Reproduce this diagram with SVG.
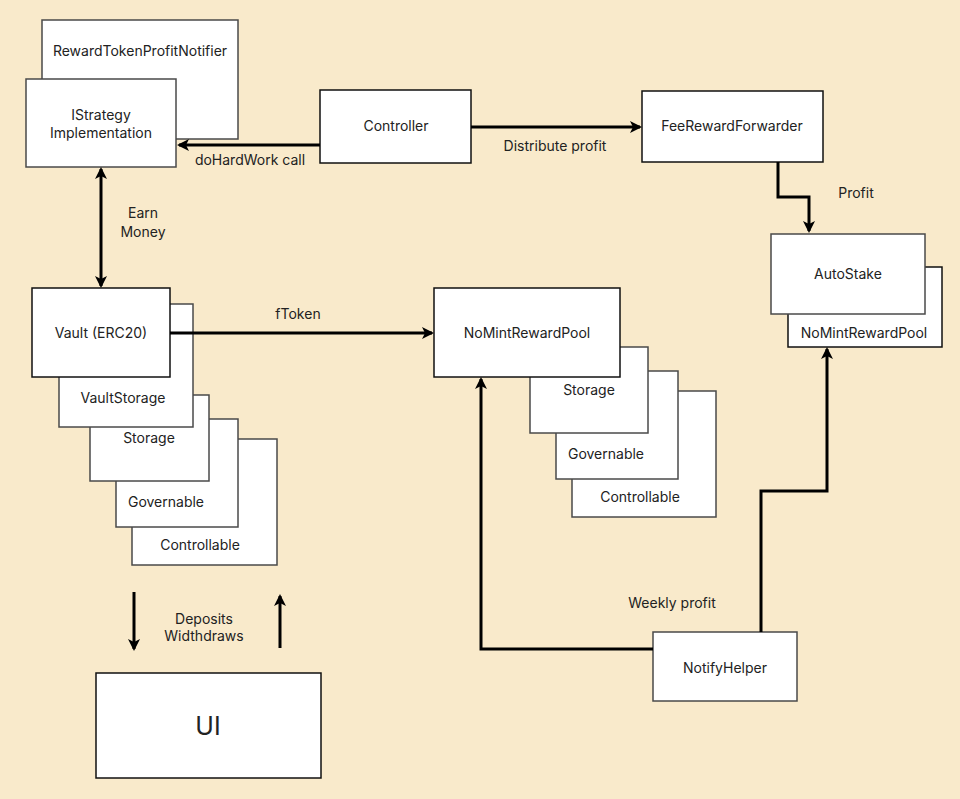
<svg xmlns="http://www.w3.org/2000/svg" width="960" height="799" viewBox="0 0 960 799">
<style>
.bg{fill:#F9EACB}
.box{fill:#FFFFFF;stroke:#4a4a4a;stroke-width:1.5}
.dk{stroke:#111}
.t{font-family:Inter,"Liberation Sans",sans-serif;font-size:14px;fill:#222;text-anchor:middle;dominant-baseline:central}
.big{font-size:25px}
.c{fill:none;stroke:#000;stroke-width:3}
</style>
<defs>
<marker id="ah" viewBox="0 0 12 12" refX="10" refY="6" markerWidth="12" markerHeight="12" markerUnits="userSpaceOnUse" orient="auto-start-reverse">
<path d="M0,0 L12,6 L0,12 L3,6 z" fill="#000"/>
</marker>
</defs>
<rect class="bg" x="0" y="0" width="960" height="799"/>

<g id="reward-token-profit-notifier">
<rect class="box" x="42" y="20" width="196" height="119"/>
<text class="t" x="140" y="50">RewardTokenProfitNotifier</text>
</g>
<g id="istrategy">
<rect class="box" x="26" y="79" width="150" height="88"/>
<text class="t" x="101" y="114">IStrategy</text>
<text class="t" x="101" y="132">Implementation</text>
</g>
<g id="controller">
<rect class="box dk" x="320" y="90" width="151" height="73"/>
<text class="t" x="396" y="125">Controller</text>
</g>
<g id="fee-reward-forwarder">
<rect class="box dk" x="642" y="91" width="181" height="71"/>
<text class="t" x="732" y="125">FeeRewardForwarder</text>
</g>

<g id="nomint-right">
<rect class="box dk" x="788" y="267" width="154" height="80"/>
<text class="t" x="864" y="332">NoMintRewardPool</text>
</g>
<g id="autostake">
<rect class="box" x="771" y="234" width="154" height="80"/>
<text class="t" x="848" y="273">AutoStake</text>
</g>

<g id="controllable-left">
<rect class="box" x="132" y="439" width="145" height="126"/>
<text class="t" x="200" y="544">Controllable</text>
</g>
<g id="governable-left">
<rect class="box" x="116" y="419" width="122" height="108"/>
<text class="t" x="166" y="501">Governable</text>
</g>
<g id="storage-left">
<rect class="box" x="90" y="395" width="119" height="86"/>
<text class="t" x="149" y="437">Storage</text>
</g>
<g id="vault-storage">
<rect class="box" x="59" y="304" width="134" height="123"/>
<text class="t" x="123" y="397">VaultStorage</text>
</g>
<g id="vault">
<rect class="box dk" x="32" y="288" width="138" height="89"/>
<text class="t" x="101" y="332">Vault (ERC20)</text>
</g>

<g id="controllable-mid">
<rect class="box" x="572" y="391" width="144" height="126"/>
<text class="t" x="640" y="496">Controllable</text>
</g>
<g id="governable-mid">
<rect class="box" x="556" y="371" width="122" height="108"/>
<text class="t" x="606" y="453">Governable</text>
</g>
<g id="storage-mid">
<rect class="box" x="530" y="347" width="118" height="86"/>
<text class="t" x="589" y="389">Storage</text>
</g>
<g id="nomint-mid">
<rect class="box dk" x="434" y="288" width="186" height="89"/>
<text class="t" x="527" y="332">NoMintRewardPool</text>
</g>

<g id="notify-helper">
<rect class="box" x="653" y="632" width="144" height="69"/>
<text class="t" x="725" y="667">NotifyHelper</text>
</g>
<g id="ui">
<rect class="box dk" x="96" y="673" width="225" height="105"/>
<text class="t big" x="208" y="726">UI</text>
</g>

<g id="connectors">
<path class="c" d="M320,145 L179,145" marker-end="url(#ah)"/>
<path class="c" d="M471,127 L640,127" marker-end="url(#ah)"/>
<path class="c" d="M101,169 L101,286" marker-start="url(#ah)" marker-end="url(#ah)"/>
<path class="c" d="M778,162 L778,197 L809,197 L809,231" marker-end="url(#ah)"/>
<path class="c" d="M170,333 L432,333" marker-end="url(#ah)"/>
<path class="c" d="M653,649 L481,649 L481,379" marker-end="url(#ah)"/>
<path class="c" d="M761,632 L761,491 L827,491 L827,349" marker-end="url(#ah)"/>
<path class="c" d="M134,592 L134,649" marker-end="url(#ah)"/>
<path class="c" d="M280,648 L280,596" marker-end="url(#ah)"/>
</g>

<g id="labels">
<text class="t" x="250" y="159">doHardWork call</text>
<text class="t" x="555" y="145">Distribute profit</text>
<text class="t" x="856" y="192">Profit</text>
<text class="t" x="143" y="212">Earn</text>
<text class="t" x="143" y="231">Money</text>
<text class="t" x="298" y="313">fToken</text>
<text class="t" x="672" y="602">Weekly profit</text>
<text class="t" x="204" y="618">Deposits</text>
<text class="t" x="204" y="635">Widthdraws</text>
</g>
</svg>
